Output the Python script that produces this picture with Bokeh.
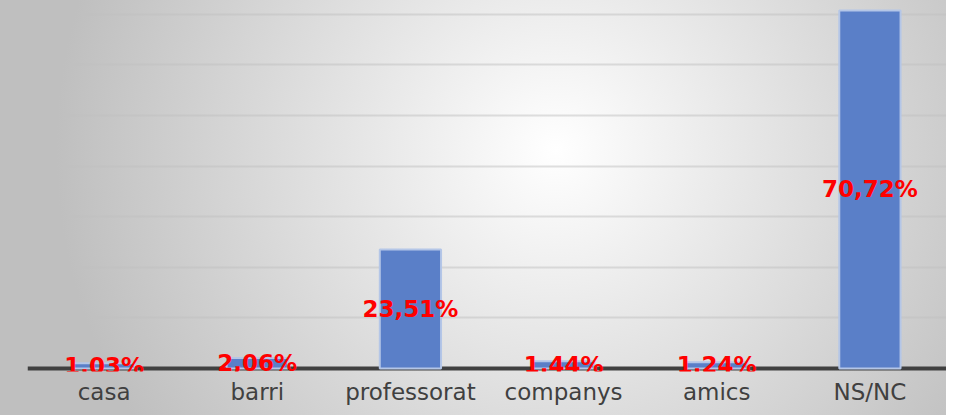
from bokeh.plotting import figure
from bokeh.models import Span, ColumnDataSource, FixedTicker
from bokeh.core.properties import value
from bokeh.embed import file_html
from bokeh.resources import INLINE

categories = ["casa", "barri", "professorat", "companys", "amics", "NS/NC"]
percentages = [1.03, 2.06, 23.51, 1.44, 1.24, 70.72]
value_labels = ["1,03%", "2,06%", "23,51%", "1,44%", "1,24%", "70,72%"]
grid_ticks = [10, 20, 30, 40, 50, 60, 70]

xs = [i + 0.5 for i in range(len(categories))]
src = ColumnDataSource(dict(x=xs, top=percentages,
                            mid=[v / 2 for v in percentages],
                            label=value_labels))

p = figure(width=946, height=415, x_range=(0, len(categories)), y_range=(-0.6, 72.7),
           output_backend="svg", toolbar_location=None,
           min_border_left=27, min_border_right=0, min_border_top=0, min_border_bottom=44)
p.background_fill_color = None
p.border_fill_color = None
p.outline_line_color = None
p.styles = {"background-image": "radial-gradient(circle 500px at 556px 150px, #ffffff 0%, #bfbfbf 100%)",
            "background-color": "#bfbfbf"}

p.xgrid.visible = False
p.ygrid.ticker = FixedTicker(ticks=grid_ticks)
p.ygrid.grid_line_color = "#bfbfbf"
p.ygrid.grid_line_alpha = 0.5
p.ygrid.grid_line_width = 2
p.yaxis.visible = False

p.add_layout(Span(location=0, dimension="width", line_color="#404040", line_width=4, level="underlay"))

p.vbar(x="x", top="top", bottom=0, width=0.4, source=src,
       fill_color="#5a7fc8", line_color="#b4c6e7", line_width=2)
p.text(x="x", y="mid", text="label", source=src,
       text_font=value("DejaVu Sans"), text_font_style="bold", text_font_size="23px",
       text_color="#ff0000", text_align="center", text_baseline="middle")

p.xaxis.ticker = FixedTicker(ticks=xs)
p.xaxis.major_label_overrides = {x: c for x, c in zip(xs, categories)}
p.xaxis.axis_line_color = None
p.xaxis.major_tick_line_color = None
p.xaxis.minor_tick_line_color = None
p.xaxis.major_tick_out = 0
p.xaxis.major_tick_in = 0
p.xaxis.major_label_standoff = 7
p.xaxis.major_label_text_font = "DejaVu Sans"
p.xaxis.major_label_text_font_size = "23px"
p.xaxis.major_label_text_color = "#404040"

open("out.html", "w").write(file_html(p, INLINE))
